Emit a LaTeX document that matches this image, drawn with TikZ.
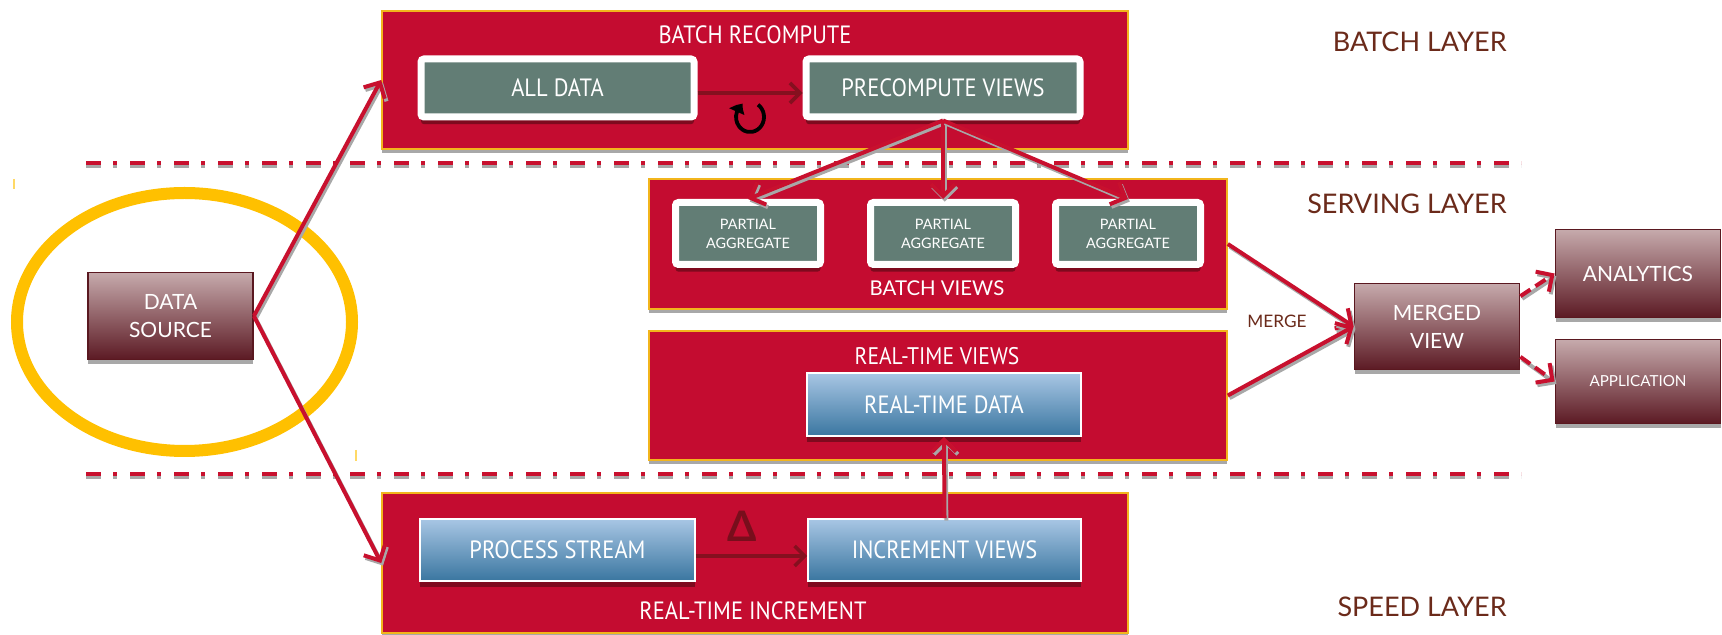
\documentclass[tikz,border=0pt]{standalone}
\usepackage{fontspec}
\setmainfont{Lato}
\newfontfamily\narrowf[FakeStretch=0.9]{PT Sans}
\usetikzlibrary{arrows.meta,shadows,shapes.geometric,bending}
\definecolor{layerred}{HTML}{C40C30}
\definecolor{layeryellow}{HTML}{F2B51C}
\definecolor{framegreen}{HTML}{627D75}
\definecolor{darkshadow}{HTML}{7E0A1E}
\definecolor{shadowgray}{HTML}{A8A8A8}
\definecolor{btop}{HTML}{A8C6E4}
\definecolor{bbot}{HTML}{3A76A0}
\definecolor{mtop}{HTML}{C6AAAC}
\definecolor{mbot}{HTML}{5C1A24}
\definecolor{mborder}{HTML}{5A1820}
\definecolor{connred}{HTML}{C8102E}
\definecolor{darkarrow}{HTML}{85101F}
\definecolor{labelbrown}{HTML}{6B2A1A}
\definecolor{ringyellow}{HTML}{FFC000}
\tikzset{
  layerbox/.style={fill=layerred, draw=layeryellow, line width=0.8pt, inner sep=0pt,
    drop shadow={shadow xshift=0pt, shadow yshift=-2pt, fill=shadowgray, opacity=1}},
  framebox/.style={fill=framegreen, draw=white, line width=3.5pt, rounded corners=1.5pt,
    text=white, align=center, inner sep=0pt,
    drop shadow={shadow xshift=0pt, shadow yshift=-3.6pt, fill=darkshadow, opacity=1}},
  bluebox/.style={top color=btop, bottom color=bbot, draw=white, line width=0.9pt,
    text=white, align=center, inner sep=0pt,
    drop shadow={shadow xshift=0pt, shadow yshift=-2.8pt, fill=darkshadow, opacity=1}},
  maroonbox/.style={top color=mtop, bottom color=mbot, draw=mborder, line width=0.9pt,
    text=white, align=center, inner sep=0pt,
    drop shadow={shadow xshift=0pt, shadow yshift=-2.2pt, fill=shadowgray, opacity=1}},
  conn/.style={draw=connred, line width=2pt,
    -{Straight Barb[length=6pt,width=12pt,line width=2pt]},
    preaction={draw=shadowgray, line width=2pt, transform canvas={xshift=0.9pt,yshift=-1.3pt}}},
  inner/.style={draw=darkarrow, line width=1.8pt,
    -{Straight Barb[length=5pt,width=10pt,line width=1.8pt]}},
  sepline/.style={draw=connred, line width=2pt, dash pattern=on 7.5pt off 6pt on 2pt off 6.5pt,
    preaction={draw=shadowgray, line width=2pt, dash pattern=on 7.5pt off 6pt on 2pt off 6.5pt, transform canvas={yshift=-1.6pt}}},
  layerlabel/.style={text=labelbrown, font=\fontsize{13.5}{16}\selectfont, anchor=east, inner sep=0pt},
  narrowtxt/.style={font=\narrowf\fontsize{12.5}{14}\selectfont},
}
\begin{document}
\begin{tikzpicture}[x=0.5pt,y=-0.5pt]
\clip (0,0) rectangle (1722,635);
\fill[white] (0,0) rectangle (1722,635);

% separators
\coordinate (s1a) at (86,163); \coordinate (s1b) at (1521,163);
\coordinate (s2a) at (86,474); \coordinate (s2b) at (1521,474);
\draw[sepline] (s1a) -- (s1b);
\draw[sepline] (s2a) -- (s2b);

% yellow ring
\node[draw=ringyellow, line width=6pt, ellipse, minimum width=167.5pt, minimum height=129pt] (ring) at (184.5,322) {};
\coordinate (t1a) at (14,179); \coordinate (t1b) at (14,189);
\coordinate (t2a) at (356,450); \coordinate (t2b) at (356,461);
\draw[ringyellow!60, line width=0.8pt] (t1a) -- (t1b);
\draw[ringyellow!60, line width=0.8pt] (t2a) -- (t2b);

% layer boxes
\node[layerbox, minimum width=373pt, minimum height=69pt] (batch) at (755,80) {};
\node[layerbox, minimum width=373pt, minimum height=70pt] (speed) at (755,563) {};
\node[layerbox, minimum width=289pt, minimum height=65pt] (bv) at (938,244) {};
\node[layerbox, minimum width=289pt, minimum height=64.5pt] (rtv) at (938,395.5) {};

% layer box titles
\node[text=white, narrowtxt] (tbr) at (755,35) {BATCH RECOMPUTE};
\node[text=white, font=\fontsize{10.2}{12}\selectfont] (tbv) at (937,288) {BATCH VIEWS};
\node[text=white, font=\narrowf\fontsize{12}{14}\selectfont] (trv) at (937,356) {REAL-TIME VIEWS};
\node[text=white, narrowtxt] (tri) at (753,611) {REAL-TIME INCREMENT};

% inner boxes
\node[framebox, narrowtxt, minimum width=136.5pt, minimum height=29pt] (ad) at (557.5,88) {ALL DATA};
\node[framebox, narrowtxt, minimum width=137pt, minimum height=29pt] (pv) at (943,88) {PRECOMPUTE VIEWS};
\node[framebox, font=\fontsize{7.2}{9.5}\selectfont, minimum width=72.5pt, minimum height=31pt] (pa1) at (748,233.5) {PARTIAL\\AGGREGATE};
\node[framebox, font=\fontsize{7.2}{9.5}\selectfont, minimum width=72.5pt, minimum height=31pt] (pa2) at (943,233.5) {PARTIAL\\AGGREGATE};
\node[framebox, font=\fontsize{7.2}{9.5}\selectfont, minimum width=72.5pt, minimum height=31pt] (pa3) at (1128,233.5) {PARTIAL\\AGGREGATE};
\node[bluebox, narrowtxt, minimum width=137pt, minimum height=31.5pt] (rtd) at (944,404.5) {REAL-TIME DATA};
\node[bluebox, narrowtxt, minimum width=137.5pt, minimum height=31pt] (ps) at (557.5,550) {PROCESS STREAM};
\node[bluebox, narrowtxt, minimum width=136.5pt, minimum height=31pt] (iv) at (944.5,550) {INCREMENT VIEWS};

% maroon boxes
\node[maroonbox, font=\fontsize{10.5}{14}\selectfont, minimum width=82.5pt, minimum height=43.5pt] (ds) at (170.5,316) {DATA\\SOURCE};
\node[maroonbox, font=\fontsize{10.5}{14}\selectfont, minimum width=82.5pt, minimum height=43pt] (mv) at (1437,326.5) {MERGED\\VIEW};
\node[maroonbox, font=\fontsize{10.5}{13}\selectfont, minimum width=82.5pt, minimum height=44pt] (an) at (1638,273.5) {ANALYTICS};
\node[maroonbox, font=\fontsize{7.6}{10}\selectfont, minimum width=82.5pt, minimum height=42pt] (app) at (1638,381.5) {APPLICATION};

% layer labels
\node[layerlabel] (lb) at (1507,42) {BATCH LAYER};
\node[layerlabel] (ls) at (1507,204) {SERVING LAYER};
\node[layerlabel] (lsp) at (1507,607) {SPEED LAYER};
\node[text=labelbrown, font=\fontsize{8.6}{10}\selectfont] (mg) at (1277,321) {MERGE};

% inner arrows
\draw[inner] ([yshift=-2.5pt]ad.east) -- ([yshift=-2.5pt]pv.west);
\draw[inner] ([yshift=-3pt]ps.east) -- ([yshift=-3pt]iv.west);
\node[text=darkarrow!90!black, font=\bfseries\fontsize{21}{22}\selectfont, inner sep=0pt] (delta) at (742,526) {Δ};
\coordinate (cyc) at (750,117);
\draw[black, line width=1.9pt, -{Triangle[length=5pt,width=8pt,bend]}]
  (cyc) ++(55:7pt and 7.5pt) arc[start angle=55, end angle=-240, x radius=7pt, y radius=7.5pt];

% connectors
\draw[conn] (ds.east) -- (batch.west);
\draw[conn] (ds.east) -- (speed.west);
\draw[conn] (pv.south) -- (pa1.north);
\draw[conn] (pv.south) -- (pa2.north);
\draw[conn] (pv.south) -- (pa3.north);
\draw[conn] (iv.north) -- (rtd.south);
\draw[conn] (bv.east) -- (mv.west);
\draw[conn] (rtv.east) -- (mv.west);
\draw[conn, dash pattern=on 6pt off 3pt, preaction={dash pattern=on 6pt off 3pt}] (mv.20) -- (an.west);
\draw[conn, dash pattern=on 6pt off 3pt, preaction={dash pattern=on 6pt off 3pt}] (mv.-20) -- (app.west);
\end{tikzpicture}
\end{document}
